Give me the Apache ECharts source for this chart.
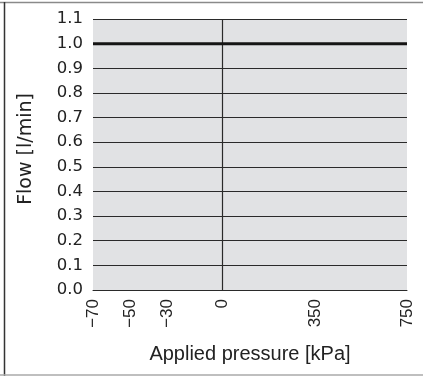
<!DOCTYPE html>
<html>
<head>
<meta charset="utf-8">
<script src="https://cdn.jsdelivr.net/npm/echarts@6/dist/echarts.min.js"></script>
<style>
  html, body { margin: 0; padding: 0; background: #fff; }
  #chart { width: 423px; height: 376px; }
</style>
</head>
<body>
<div id="chart"></div>
<script>
// ---- data ----
const pressureTicks = [-70, -50, -30, 0, 350, 750];
const pressureTickLabels = ['\u221270', '\u221250', '\u221230', '0', '350', '750'];
const flowPressure = [-70, 750];
const flowValues = [1.0, 1.0];
const flowMin = 0;
const flowMax = 1.1;
const flowStep = 0.1;
const zeroPressure = 0;

// ---- non-uniform pressure scale (piecewise linear, as drawn in the reference) ----
const scaleKnotsP = [-70, 0, 350, 750];
const scaleKnotsU = [0, 129.4, 222.5, 314];
function u(p) {
  for (let i = 0; i < scaleKnotsP.length - 1; i++) {
    const a = scaleKnotsP[i], b = scaleKnotsP[i + 1];
    if (p <= b || i === scaleKnotsP.length - 2) {
      const t = (p - a) / (b - a);
      return scaleKnotsU[i] + t * (scaleKnotsU[i + 1] - scaleKnotsU[i]);
    }
  }
}

const FONT = "'Liberation Sans', Arial, Helvetica, sans-serif";
const WIDE = "'DejaVu Sans', 'Liberation Sans', sans-serif";
const TXT = '#222';

const chart = echarts.init(document.getElementById('chart'), null, { renderer: 'canvas' });
chart.setOption({
  animation: false,
  backgroundColor: '#fff',
  grid: {
    left: 93, right: 16, top: 19, bottom: 86,
    show: true, backgroundColor: '#e1e2e4', borderWidth: 0
  },
  xAxis: {
    type: 'value',
    min: u(pressureTicks[0]),
    max: u(pressureTicks[pressureTicks.length - 1]),
    name: 'Applied pressure [kPa]',
    nameLocation: 'middle',
    nameGap: 54,
    nameTextStyle: { fontFamily: FONT, fontSize: 20, color: TXT },
    axisLine: { show: true, lineStyle: { color: '#2a2a2a', width: 1 } },
    axisTick: { show: false },
    splitLine: { show: false },
    axisLabel: {
      customValues: pressureTicks.map(u),
      rotate: 90,
      margin: 9,
      fontFamily: FONT, fontSize: 17, color: TXT,
      formatter: function (v) {
        for (let i = 0; i < pressureTicks.length; i++) {
          if (Math.abs(u(pressureTicks[i]) - v) < 1e-6) return pressureTickLabels[i];
        }
        return '';
      }
    }
  },
  yAxis: {
    type: 'value',
    min: flowMin, max: flowMax, interval: flowStep,
    name: 'Flow [l/min]',
    nameLocation: 'middle',
    nameGap: 57,
    nameTextStyle: { fontFamily: WIDE, fontSize: 19, color: TXT, padding: [0, 0, 0, 11] },
    axisLine: { show: false },
    axisTick: { show: false },
    splitLine: { show: true, lineStyle: { color: '#2a2a2a', width: 1 } },
    axisLabel: {
      margin: 10,
      fontFamily: WIDE, fontSize: 16.5, color: TXT,
      formatter: function (v) { return v.toFixed(1); }
    }
  },
  series: [{
    type: 'line',
    data: flowPressure.map((p, i) => [u(p), flowValues[i]]),
    symbol: 'none',
    lineStyle: { color: '#151515', width: 3 },
    z: 5,
    markLine: {
      silent: true,
      symbol: ['none', 'none'],
      label: { show: false },
      lineStyle: { color: '#2a2a2a', width: 1.2, type: 'solid' },
      data: [{ xAxis: u(zeroPressure) }]
    }
  }],
  graphic: [
    { type: 'line', shape: { x1: 0, y1: 2.5, x2: 423, y2: 2.5 }, style: { stroke: '#8a8a8a', lineWidth: 1.5 }, silent: true },
    { type: 'line', shape: { x1: 4.5, y1: 2, x2: 4.5, y2: 376 }, style: { stroke: '#333', lineWidth: 1.5 }, silent: true },
    { type: 'line', shape: { x1: 0, y1: 375, x2: 423, y2: 375 }, style: { stroke: '#aaa', lineWidth: 1.5 }, silent: true }
  ]
});
</script>
</body>
</html>
